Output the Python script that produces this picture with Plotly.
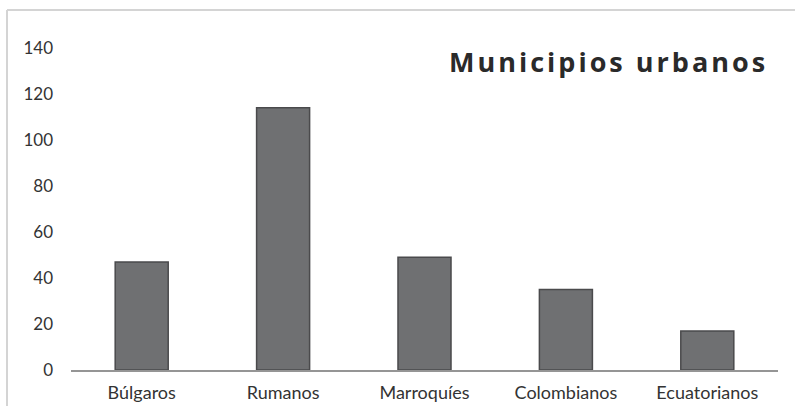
import plotly.graph_objects as go

# Data
categorias = ["Búlgaros", "Rumanos", "Marroquíes", "Colombianos", "Ecuatorianos"]
valores = [47, 114, 49, 35, 17]
ticks_y = [0, 20, 40, 60, 80, 100, 120, 140]
titulo = "Municipios urbanos"

W, H = 795, 406
ML, MR, MT, MB = 71, 17, 48, 36
plot_w = W - ML - MR
plot_h = H - MT - MB

fig = go.Figure(
    go.Bar(
        x=categorias,
        y=valores,
        marker=dict(color="#6f7072", line=dict(color="#4a4a4c", width=1.5)),
        width=0.375,
    )
)

# Outer chart frame (top and left edges)
def px_to_paper_x(px):
    return (px - ML) / plot_w

def px_to_paper_y(py):
    return (H - MB - py) / plot_h

fig.add_shape(type="line", xref="paper", yref="paper",
              x0=px_to_paper_x(7), x1=px_to_paper_x(795),
              y0=px_to_paper_y(10), y1=px_to_paper_y(10),
              line=dict(color="#d4d4d4", width=2))
fig.add_shape(type="line", xref="paper", yref="paper",
              x0=px_to_paper_x(7), x1=px_to_paper_x(7),
              y0=px_to_paper_y(10), y1=px_to_paper_y(406),
              line=dict(color="#d4d4d4", width=2))

fig.add_annotation(
    text=f'<span style="letter-spacing:3px">{titulo}</span>',
    xref="paper", yref="paper",
    x=px_to_paper_x(770), y=px_to_paper_y(62),
    xanchor="right", yanchor="middle", showarrow=False,
    font=dict(family="Open Sans", size=27, color="#2a2a2a", weight="bold"),
)

fig.update_layout(
    width=W, height=H,
    margin=dict(l=ML, r=MR, t=MT, b=MB, autoexpand=False),
    paper_bgcolor="white", plot_bgcolor="white",
    showlegend=False,
    font=dict(family="Lato", color="#333333"),
)
fig.update_xaxes(
    showline=True, linecolor="#959595", linewidth=2,
    showgrid=False, ticks="", automargin=False,
    tickfont=dict(family="Lato", size=18, color="#333333"),
    ticklabelstandoff=5,
)
fig.update_yaxes(
    range=[0, 140], tickvals=ticks_y,
    showline=False, showgrid=False, zeroline=False, ticks="",
    automargin=False,
    tickfont=dict(family="Lato", size=17, color="#333333"),
    ticklabelstandoff=17,
)

fig.write_html("out.html")
